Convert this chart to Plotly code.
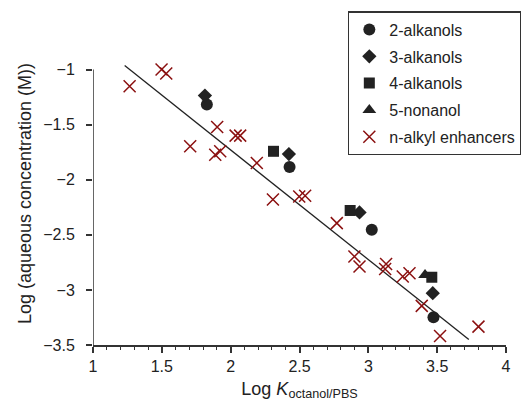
import plotly.graph_objects as go

# ---- data ----
alk2_x = [1.827, 2.428, 3.025, 3.473]
alk2_y = [-1.318, -1.885, -2.455, -3.248]
alk3_x = [1.813, 2.423, 2.936, 3.468]
alk3_y = [-1.236, -1.767, -2.297, -3.03]
alk4_x = [2.311, 2.868, 3.461]
alk4_y = [-1.742, -2.279, -2.885]
non5_x = [3.412]
non5_y = [-2.864]
enh_x = [1.266, 1.498, 1.532, 1.706, 1.902, 1.888, 1.924, 2.036, 2.069, 2.19,
         2.307, 2.498, 2.541, 2.771, 2.899, 2.936, 3.129, 3.122, 3.25, 3.299,
         3.388, 3.521, 3.80]
enh_y = [-1.152, -1.00, -1.036, -1.697, -1.521, -1.773, -1.742, -1.60, -1.60, -1.848,
         -2.18, -2.152, -2.145, -2.394, -2.697, -2.788, -2.764, -2.81, -2.879, -2.848,
         -3.145, -3.418, -3.333]
fit_x = [1.23, 3.73]
fit_y = [-0.964, -3.451]

FONT = "Liberation Sans, Arial, sans-serif"
DARK = "#222222"
RED = "#8b1010"

fig = go.Figure()
fig.add_trace(go.Scatter(x=fit_x, y=fit_y, mode="lines", showlegend=False,
                         line=dict(color=DARK, width=1.3), hoverinfo="skip"))
series = [
    ("2-alkanols", alk2_x, alk2_y, "circle", 12),
    ("3-alkanols", alk3_x, alk3_y, "diamond", 11),
    ("4-alkanols", alk4_x, alk4_y, "square", 11),
    ("5-nonanol", non5_x, non5_y, "triangle-up", 12),
]
for name, xs, ys, sym, sz in series:
    fig.add_trace(go.Scatter(x=xs, y=ys, mode="markers", name=name, legendgroup=name,
                             marker=dict(symbol=sym, size=sz, color=DARK)))
fig.add_trace(go.Scatter(x=enh_x, y=enh_y, mode="markers", name="n-alkyl enhancers",
                         legendgroup="enh",
                         marker=dict(symbol="x-thin", size=12, color=RED,
                                     line=dict(color=RED, width=1.5))))

# y axis line only spans the labelled range
fig.add_shape(type="line", xref="x", yref="y", x0=1, x1=1, y0=-3.5, y1=-1,
              line=dict(color="#333333", width=1.5))

fig.update_layout(
    width=521, height=411,
    margin=dict(l=93, r=15, t=42, b=66, autoexpand=False),
    paper_bgcolor="white", plot_bgcolor="white",
    font=dict(family=FONT, size=16, color=DARK),
    legend=dict(x=0.617, y=1.102, xanchor="left", yanchor="top",
                bgcolor="white", bordercolor="#333333", borderwidth=1.5,
                font=dict(size=16, color=DARK), tracegroupgap=3,
                traceorder="grouped"),
    xaxis=dict(range=[1, 4], tickvals=[1, 1.5, 2, 2.5, 3, 3.5, 4],
               ticktext=["1", "1.5", "2", "2.5", "3", "3.5", "4"],
               showline=True, linecolor="#333333", linewidth=1.5,
               ticks="outside", ticklen=6, tickcolor="#333333", tickwidth=1.5,
               minor=dict(dtick=0.1, ticks="outside", ticklen=3, tickcolor="#333333", tickwidth=1),
               showgrid=False, zeroline=False,
               title=dict(text="Log <i>K</i><sub>octanol/PBS</sub>", font=dict(size=18), standoff=8)),
    yaxis=dict(range=[-3.5, -0.75], tickvals=[-1, -1.5, -2, -2.5, -3, -3.5],
               ticktext=["\u22121", "\u22121.5", "\u22122", "\u22122.5", "\u22123", "\u22123.5"],
               showline=False, ticks="outside", ticklen=6, tickcolor="#333333", tickwidth=1.5,
               showgrid=False, zeroline=False, ticklabelstandoff=8,
               title=dict(text="Log (aqueous concentration (M))", font=dict(size=18), standoff=6)),
)
fig.write_html("out.html")
